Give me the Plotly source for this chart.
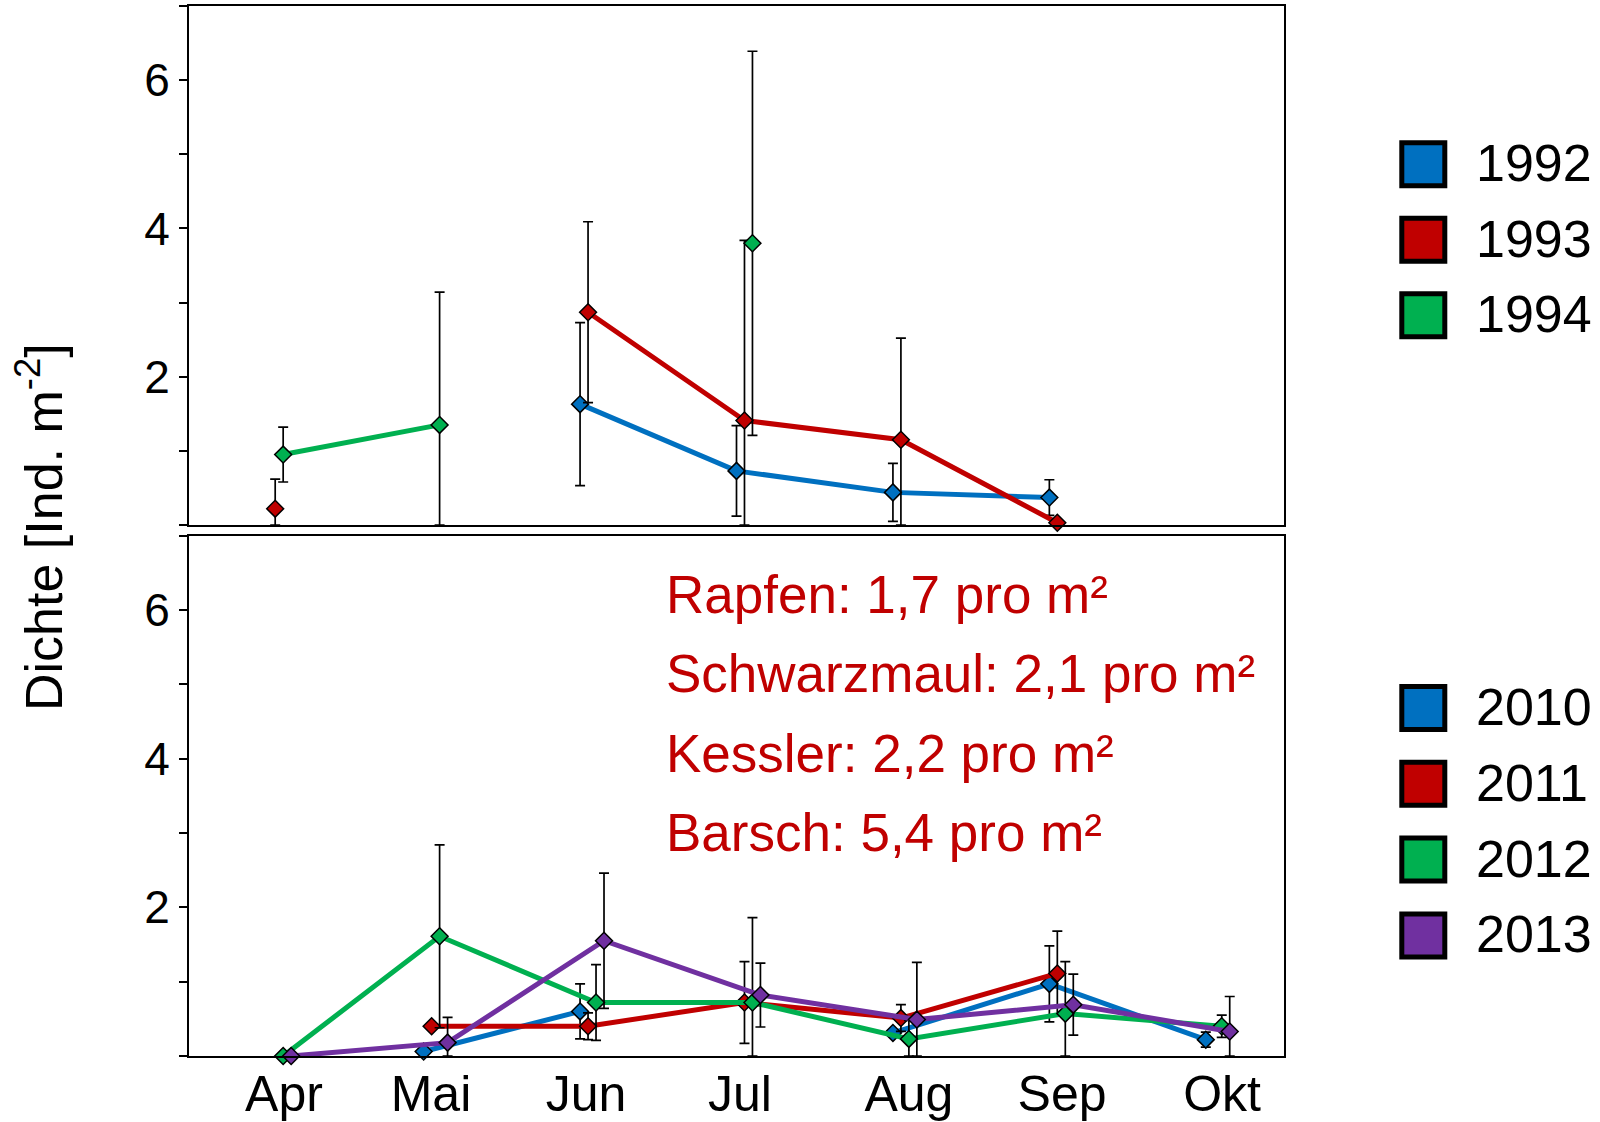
import plotly.graph_objects as go
from plotly.subplots import make_subplots

# ---- data -----------------------------------------------------------------
months = ["Apr", "Mai", "Jun", "Jul", "Aug", "Sep", "Okt"]

# 1992-1994: mean density and error (Ind. m^-2)
years_early = ["1992", "1993", "1994"]
d1992 = [None, None, 1.63, 0.73, 0.44, 0.37, None]
e1992 = [None, None, 1.10, 0.61, 0.39, 0.24, None]
d1993 = [0.22, None, 2.87, 1.41, 1.15, 0.03, None]
e1993 = [0.40, None, 1.22, 2.43, 1.37, 0.0, None]
d1994 = [0.95, 1.35, None, 3.80, None, None, None]
e1994 = [0.37, 1.79, None, 2.59, None, None, None]

# 2010-2013
years_late = ["2010", "2011", "2012", "2013"]
d2010 = [None, 0.06, 0.60, None, 0.31, 0.97, 0.22]
e2010 = [None, 0.0, 0.37, None, 0.0, 0.51, 0.10]
d2011 = [None, 0.40, 0.40, 0.72, 0.51, 1.11, None]
e2011 = [None, 0.0, 0.18, 0.55, 0.18, 0.57, None]
d2012 = [0.0, 1.61, 0.72, 0.72, 0.23, 0.57, 0.40]
e2012 = [0.0, 1.23, 0.51, 1.14, 0.25, 0.70, 0.15]
d2013 = [0.0, 0.18, 1.55, 0.82, 0.49, 0.69, 0.33]
e2013 = [0.0, 0.34, 0.91, 0.43, 0.77, 0.41, 0.47]

species_notes = [
    "Rapfen: 1,7 pro m²",
    "Schwarzmaul: 2,1 pro m²",
    "Kessler: 2,2 pro m²",
    "Barsch: 5,4 pro m²",
]

# ---- styling ----------------------------------------------------------------
colors = ["#0070C0", "#C00000", "#00B050", "#7030A0"]
FONT = "Liberation Sans, Arial, sans-serif"
slot_shift = 0.051          # horizontal dodge between years within a month
month_label_pos = [0.107, 1.047, 2.038, 3.022, 4.102, 5.081, 6.104]

W, H = 1600, 1122
ML, MR, MT, MB = 189, 316, 6, 66
PW, PH = W - ML - MR, H - MT - MB


def px_x(px):
    return (px - ML) / PW


def px_y(py):
    return (H - MB - py) / PH


fig = make_subplots(rows=2, cols=1, shared_xaxes=False, vertical_spacing=0.0)


def add_series(values, errors, slot, color, name, row):
    xs = [i + slot * slot_shift for i in range(len(months))]
    minus = [None if v is None else min(e, v) for v, e in zip(values, errors)]
    fig.add_trace(
        go.Scatter(
            x=xs, y=values, name=name, mode="lines+markers",
            connectgaps=False, cliponaxis=False, showlegend=False,
            line=dict(color=color, width=5),
            marker=dict(symbol="diamond", size=13, color=color,
                        line=dict(color="black", width=1.5)),
            error_y=dict(type="data", symmetric=False, array=errors,
                         arrayminus=minus, color="black",
                         thickness=1.7, width=5),
        ),
        row=row, col=1,
    )


early = [(d1992, e1992), (d1993, e1993), (d1994, e1994)]
late = [(d2010, e2010), (d2011, e2011), (d2012, e2012), (d2013, e2013)]
for k, (d, e) in enumerate(early):
    add_series(d, e, k, colors[k], years_early[k], 1)
for k, (d, e) in enumerate(late):
    add_series(d, e, k, colors[k], years_late[k], 2)

axis_common = dict(showline=True, linewidth=2, linecolor="black", mirror=True,
                   showgrid=False, zeroline=False, automargin=False)

xrange = [-0.5, len(months) - 0.5]
fig.update_xaxes(range=xrange, ticks="", showticklabels=False, **axis_common, row=1, col=1)
fig.update_xaxes(range=xrange, ticks="", tickvals=month_label_pos, ticktext=months,
                 tickfont=dict(family=FONT, size=50, color="black"),
                 ticklabelstandoff=-7, **axis_common, row=2, col=1)

yticks = list(range(0, 8))
ylabels = [str(v) if v in (2, 4, 6) else "" for v in yticks]
for r in (1, 2):
    fig.update_yaxes(range=[0, 7], tickvals=yticks, ticktext=ylabels,
                     ticks="outside", ticklen=8, tickwidth=2, tickcolor="black",
                     tickfont=dict(family=FONT, size=46, color="black"),
                     **axis_common, row=r, col=1)

fig.update_layout(
    xaxis=dict(domain=[0, 1]),
    yaxis=dict(domain=[px_y(525), 1.0]),
    xaxis2=dict(domain=[0, 1]),
    yaxis2=dict(domain=[0.0, px_y(535.5)]),
)

# ---- custom legends -----------------------------------------------------------
shapes = []
annotations = []


def legend_block(names, first_center, step):
    for i, name in enumerate(names):
        cy = first_center + i * step
        cx = 1423.3
        half = 21.5
        shapes.append(dict(type="rect", xref="paper", yref="paper",
                           x0=px_x(cx - half), x1=px_x(cx + half),
                           y0=px_y(cy + half), y1=px_y(cy - half),
                           line=dict(color="black", width=5),
                           fillcolor=colors[i], layer="above"))
        annotations.append(dict(text=name, xref="paper", yref="paper",
                                x=px_x(1474), y=px_y(cy - 1),
                                xanchor="left", yanchor="middle", showarrow=False,
                                font=dict(family=FONT, size=52, color="black")))


legend_block(years_early, 164.3, 75.5)
legend_block(years_late, 708.0, 75.8)

# species density notes in the lower panel
for i, note in enumerate(species_notes):
    annotations.append(dict(text=note, xref="paper", yref="paper",
                            x=px_x(664), y=px_y(594 + i * 79.5),
                            xanchor="left", yanchor="middle", showarrow=False,
                            font=dict(family=FONT, size=53, color="#C00000")))

# shared y-axis title
annotations.append(dict(text="Dichte [Ind. m<sup>-2</sup>]", xref="paper", yref="paper",
                        x=px_x(40), y=px_y(527), xanchor="center", yanchor="middle",
                        textangle=-90, showarrow=False,
                        font=dict(family=FONT, size=52, color="black")))

fig.update_layout(
    width=W, height=H,
    margin=dict(l=ML, r=MR, t=MT, b=MB),
    paper_bgcolor="white", plot_bgcolor="white",
    showlegend=False,
    shapes=shapes, annotations=annotations,
    font=dict(family=FONT, color="black"),
)

fig.write_html("out.html")
